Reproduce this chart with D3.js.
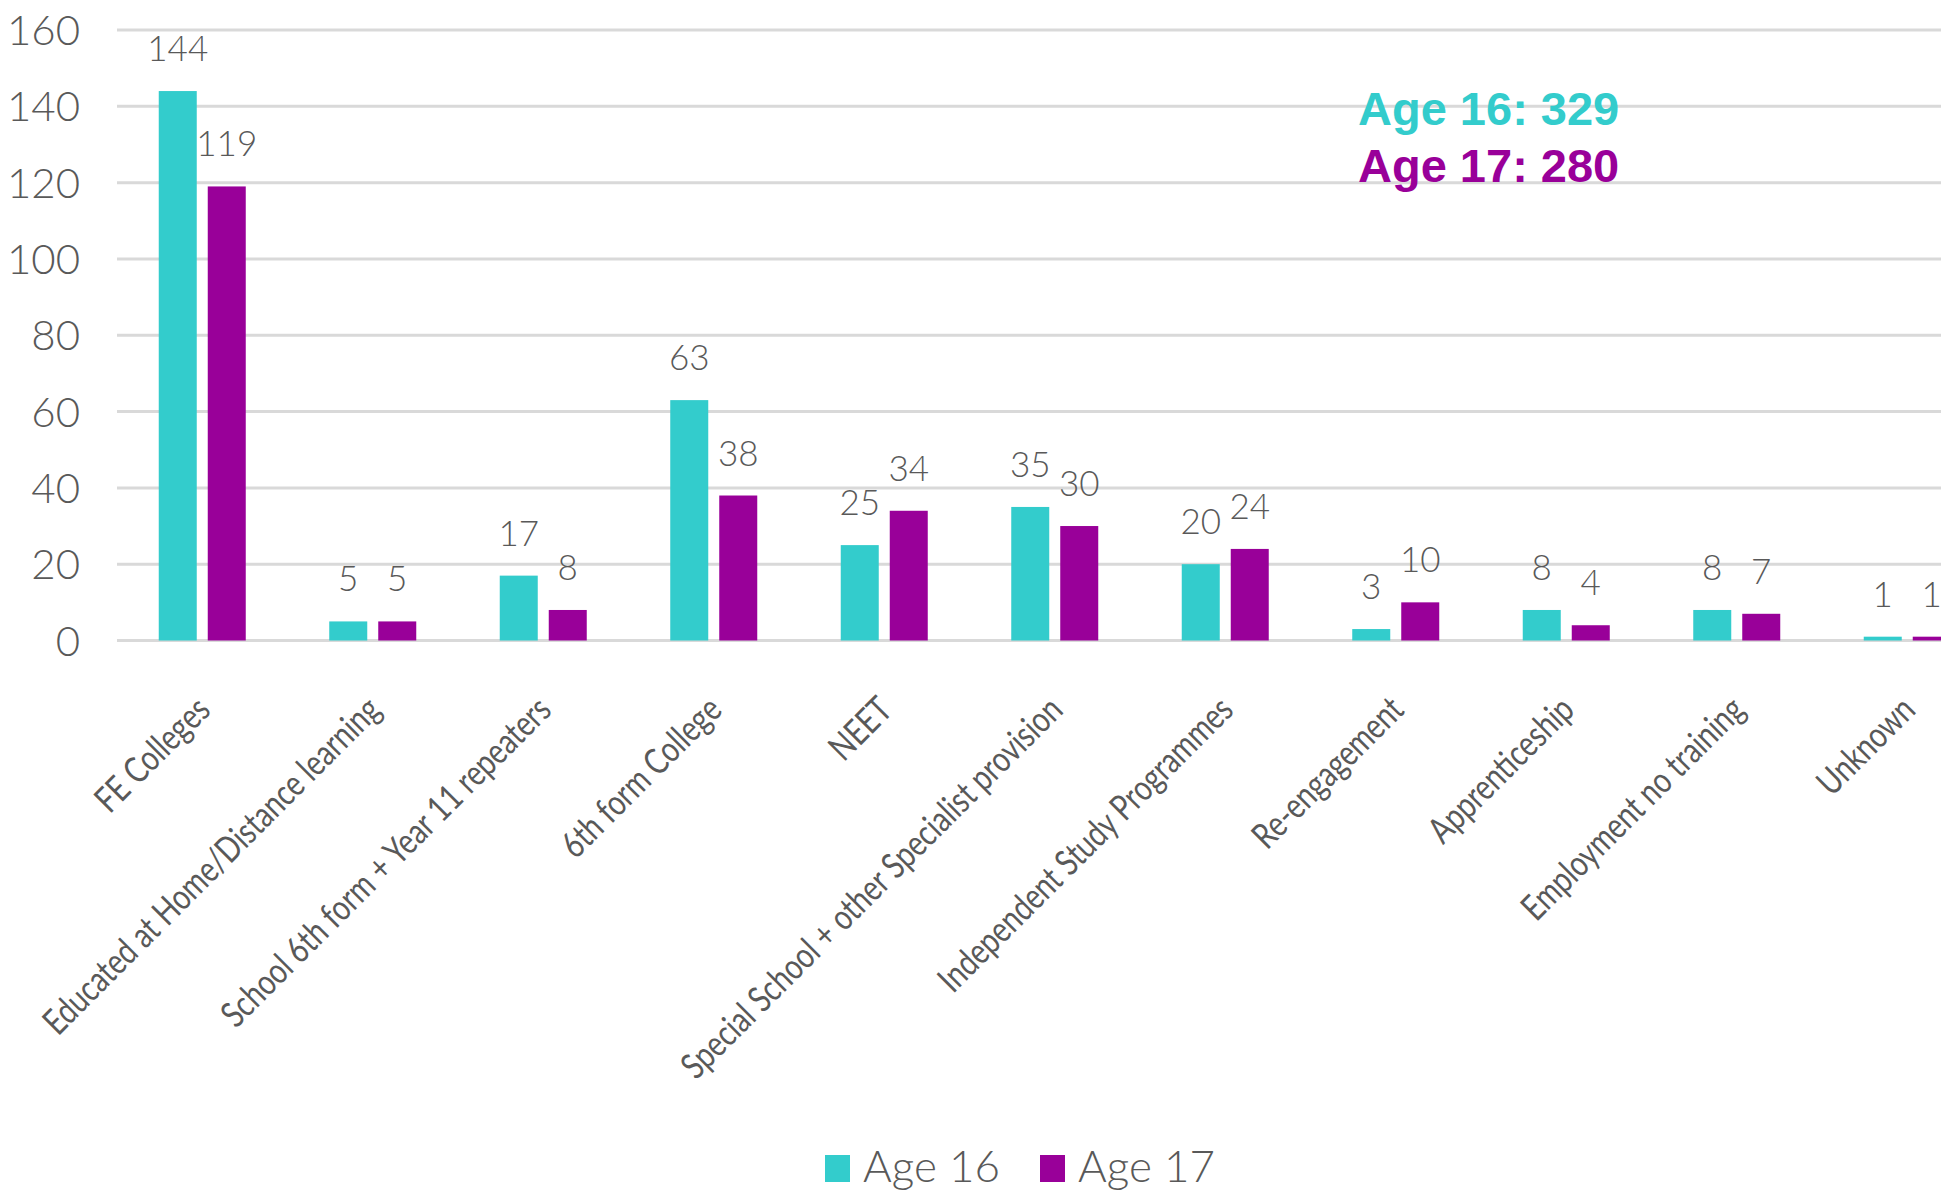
<!DOCTYPE html>
<html>
<head>
<meta charset="utf-8">
<script src="https://cdn.jsdelivr.net/npm/d3@7"></script>
<style>
  body { margin: 0; background: #fff; overflow: hidden; }
  svg { display: block; }
</style>
</head>
<body>
<svg id="chart"></svg>
<script>
// Chart size
const width = 1941;
const height = 1191;

// Data
const categories = [
  "FE Colleges",
  "Educated at Home/Distance learning",
  "School 6th form + Year 11 repeaters",
  "6th form College",
  "NEET",
  "Special School + other Specialist provision",
  "Independent Study Programmes",
  "Re-engagement",
  "Apprenticeship",
  "Employment no training",
  "Unknown"
];
const seriesNames = ["Age 16", "Age 17"];
const age16 = [144, 5, 17, 63, 25, 35, 20, 3, 8, 8, 1];
const age17 = [119, 5, 8, 38, 34, 30, 24, 10, 4, 7, 1];
const yTicks = [0, 20, 40, 60, 80, 100, 120, 140, 160];
const totals = ["Age 16: 329", "Age 17: 280"];

const colors = ["#33CCCC", "#990099"];
const textGrey = "#595959";

const svg = d3.select("#chart")
    .attr("width", width)
    .attr("height", height);

// Scales - the last category runs past the right edge, as in the original
const y = d3.scaleLinear().domain([0, 160]).range([640.5, 30]);
const x0 = d3.scaleBand().domain(categories).range([117, 117 + 11 * 170.5]).padding(0);
const x1 = d3.scaleBand().domain(seriesNames).range([-43.5, 43.5]).paddingInner(11 / 49);

// one flat record per bar
const bars = [];
categories.forEach((c, i) => {
  [age16[i], age17[i]].forEach((v, j) => {
    bars.push({ cat: c, key: seriesNames[j], value: v, j: j, label: String(v) });
  });
});
const barX = d => x0(d.cat) + x0.bandwidth() / 2 + x1(d.key);

// Gridlines
svg.append("g")
  .selectAll("line")
  .data(yTicks)
  .join("line")
    .attr("x1", 117)
    .attr("x2", width)
    .attr("y1", d => y(d))
    .attr("y2", d => y(d))
    .attr("stroke", "#d9d9d9")
    .attr("stroke-width", 3);

// Y axis labels
svg.append("g")
  .selectAll("text")
  .data(yTicks)
  .join("text")
    .attr("x", 80)
    .attr("y", d => y(d))
    .attr("dy", "0.36em")
    .attr("text-anchor", "end")
    .attr("font-family", "Lato, 'Open Sans', sans-serif")
    .attr("font-weight", 300)
    .attr("font-size", 42)
    .attr("fill", textGrey)
    .text(d => String(d));

// Bars
svg.append("g")
  .selectAll("rect")
  .data(bars)
  .join("rect")
    .attr("x", barX)
    .attr("width", x1.bandwidth())
    .attr("y", d => y(d.value))
    .attr("height", d => y(0) - y(d.value))
    .attr("fill", d => colors[d.j]);

// Value labels
svg.append("g")
  .selectAll("text")
  .data(bars)
  .join("text")
    .attr("x", d => barX(d) + x1.bandwidth() / 2)
    .attr("y", d => y(d.value) - 30)
    .attr("text-anchor", "middle")
    .attr("font-family", "Lato, 'Open Sans', sans-serif")
    .attr("font-weight", 300)
    .attr("font-size", 35)
    .attr("fill", textGrey)
    .text(d => d.label);

// Category labels, rotated; squeezed along the text to mimic a condensed face
svg.append("g")
  .selectAll("text")
  .data(categories)
  .join("text")
    .attr("transform", d => `translate(${x0(d) + x0.bandwidth() / 2 + 10},712) rotate(-45) scale(0.79,1)`)
    .attr("text-anchor", "end")
    .attr("font-family", "Lato, 'Open Sans', sans-serif")
    .attr("font-size", 36)
    .attr("fill", textGrey)
    .text(d => d);

// Totals annotation
svg.append("g")
  .selectAll("text")
  .data(totals)
  .join("text")
    .attr("x", 1358)
    .attr("y", (d, i) => 125 + i * 57)
    .attr("font-family", "'Liberation Sans', Arial, sans-serif")
    .attr("font-weight", "bold")
    .attr("font-size", 47)
    .attr("fill", (d, i) => colors[i])
    .text(d => d);

// Legend
const legend = svg.append("g")
  .selectAll("g")
  .data(seriesNames)
  .join("g")
    .attr("transform", (d, i) => `translate(${825 + i * 215},1155)`);

legend.append("rect")
    .attr("width", 25)
    .attr("height", 27)
    .attr("fill", (d, i) => colors[i]);

legend.append("text")
    .attr("x", 38)
    .attr("y", 27)
    .attr("font-family", "Lato, 'Open Sans', sans-serif")
    .attr("font-weight", 300)
    .attr("font-size", 44)
    .attr("fill", textGrey)
    .text(d => d);
</script>
</body>
</html>
